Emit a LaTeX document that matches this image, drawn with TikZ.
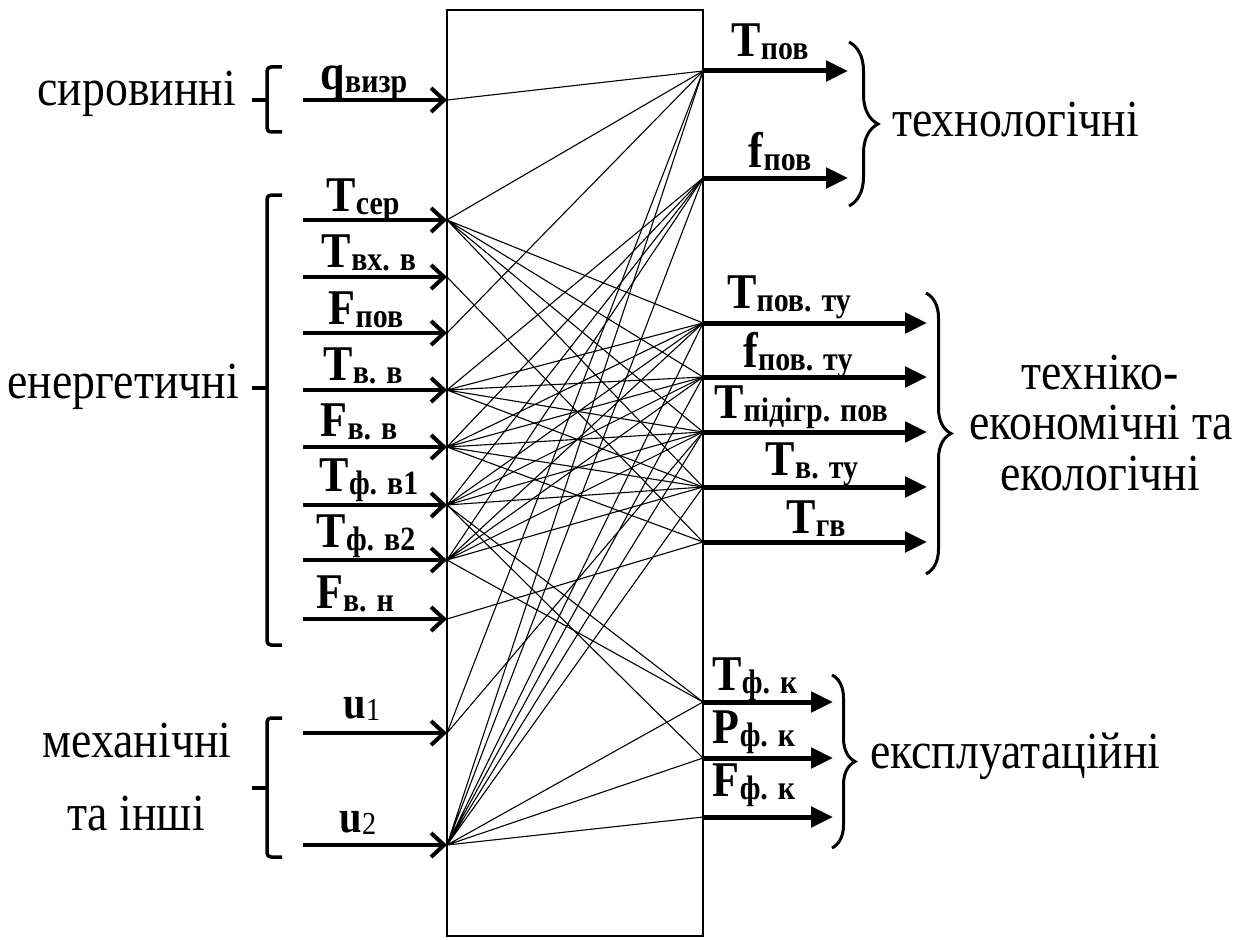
\documentclass[tikz,border=0pt]{standalone}
\usepackage{fontspec}
\setmainfont{Liberation Serif}[FakeStretch=0.88]
\usetikzlibrary{arrows.meta, decorations.pathreplacing}

\newcommand{\varlab}[2]{{\fontsize{50}{54}\selectfont\bfseries #1}\raisebox{-3pt}{\fontsize{34}{38}\selectfont\bfseries #2}}
\newcommand{\ulab}[1]{{\fontsize{46}{50}\selectfont\bfseries u}\raisebox{-2pt}{\fontsize{32}{36}\selectfont #1}}

\begin{document}
\begin{tikzpicture}[x=1pt, y=-1pt,
  inarrow/.style={line width=4pt, -{Straight Barb[length=13pt, width=24pt]}},
  outarrow/.style={line width=5pt, -{Triangle[length=22pt, width=20pt]}},
  link/.style={line width=1.1pt},
  bracket/.style={line width=3.5pt, rounded corners=4pt},
  curly/.style={line width=3pt, decorate, decoration={brace, amplitude=#1}},
  varname/.style={anchor=base, inner sep=0pt},
  group/.style={anchor=base, inner sep=0pt, font=\fontsize{52}{60}\selectfont}
]
\useasboundingbox (0,0) rectangle (1252,939);

\coordinate (q) at (447,100);    \coordinate (q0) at (303,100);
\coordinate (tser) at (447,220); \coordinate (tser0) at (303,220);
\coordinate (tvx) at (447,277);  \coordinate (tvx0) at (303,277);
\coordinate (fpv) at (447,333);  \coordinate (fpv0) at (303,333);
\coordinate (tvv) at (447,390);  \coordinate (tvv0) at (303,390);
\coordinate (fvv) at (447,447);  \coordinate (fvv0) at (303,447);
\coordinate (tf1) at (447,505);  \coordinate (tf10) at (303,505);
\coordinate (tf2) at (447,560);  \coordinate (tf20) at (303,560);
\coordinate (fvn) at (447,619);  \coordinate (fvn0) at (303,619);
\coordinate (ua) at (447,733);   \coordinate (ua0) at (303,733);
\coordinate (ub) at (447,845);   \coordinate (ub0) at (303,845);

\coordinate (tpov) at (703,71);  \coordinate (tpov1) at (848,71);
\coordinate (fpov) at (703,178); \coordinate (fpov1) at (848,178);
\coordinate (tpt) at (703,323);  \coordinate (tpt1) at (927,323);
\coordinate (fpt) at (703,377);  \coordinate (fpt1) at (927,377);
\coordinate (tpid) at (703,432); \coordinate (tpid1) at (927,432);
\coordinate (tvt) at (703,487);  \coordinate (tvt1) at (927,487);
\coordinate (tgv) at (703,542);  \coordinate (tgv1) at (927,542);
\coordinate (tfk) at (703,702);  \coordinate (tfk1) at (833,702);
\coordinate (pfk) at (703,758);  \coordinate (pfk1) at (833,758);
\coordinate (ffk) at (703,817);  \coordinate (ffk1) at (833,817);

\draw[link] (q) -- (tpov);
\draw[link] (tser) -- (tpov) (tser) -- (tpt) (tser) -- (fpt) (tser) -- (tpid) (tser) -- (tvt);
\draw[link] (tvx) -- (tgv);
\draw[link] (fpv) -- (tpov);
\draw[link] (tvv) -- (fpov) (tvv) -- (tpt) (tvv) -- (fpt) (tvv) -- (tpid) (tvv) -- (tvt);
\draw[link] (fvv) -- (fpov) (fvv) -- (tpt) (fvv) -- (fpt) (fvv) -- (tpid) (fvv) -- (tvt) (fvv) -- (tgv);
\draw[link] (tf1) -- (fpov) (tf1) -- (tpt) (tf1) -- (fpt) (tf1) -- (tpid) (tf1) -- (tvt) (tf1) -- (tfk) (tf1) -- (pfk);
\draw[link] (tf2) -- (fpov) (tf2) -- (tpt) (tf2) -- (fpt) (tf2) -- (tpid) (tf2) -- (tvt) (tf2) -- (tfk);
\draw[link] (fvn) -- (tgv);
\draw[link] (ua) -- (tpov) (ua) -- (tpid);
\draw[link] (ub) -- (tpov) (ub) -- (fpov) (ub) -- (tpt) (ub) -- (fpt) (ub) -- (tpid) (ub) -- (tvt)
  (ub) -- (tfk) (ub) -- (pfk) (ub) -- (ffk);

\draw[line width=2.5pt] (447,10) rectangle (703,936);

\draw[inarrow] (q0) -- (q);
\draw[inarrow] (tser0) -- (tser);
\draw[inarrow] (tvx0) -- (tvx);
\draw[inarrow] (fpv0) -- (fpv);
\draw[inarrow] (tvv0) -- (tvv);
\draw[inarrow] (fvv0) -- (fvv);
\draw[inarrow] (tf10) -- (tf1);
\draw[inarrow] (tf20) -- (tf2);
\draw[inarrow] (fvn0) -- (fvn);
\draw[inarrow] (ua0) -- (ua);
\draw[inarrow] (ub0) -- (ub);

\draw[outarrow] (tpov) -- (tpov1);
\draw[outarrow] (fpov) -- (fpov1);
\draw[outarrow] (tpt) -- (tpt1);
\draw[outarrow] (fpt) -- (fpt1);
\draw[outarrow] (tpid) -- (tpid1);
\draw[outarrow] (tvt) -- (tvt1);
\draw[outarrow] (tgv) -- (tgv1);
\draw[outarrow] (tfk) -- (tfk1);
\draw[outarrow] (pfk) -- (pfk1);
\draw[outarrow] (ffk) -- (ffk1);

\node[varname] (lq) at (364,90) {\varlab{q}{визр}};
\node[varname] (ltser) at (363,211) {\varlab{T}{сер}};
\node[varname] (ltvx) at (369,267) {\varlab{T}{вх. в}};
\node[varname] (lfpv) at (366,324) {\varlab{F}{пов}};
\node[varname] (ltvv) at (363,380) {\varlab{T}{в. в}};
\node[varname] (lfvv) at (359,436) {\varlab{F}{в. в}};
\node[varname] (ltf1) at (369,491) {\varlab{T}{ф. в1}};
\node[varname] (ltf2) at (366,547) {\varlab{T}{ф. в2}};
\node[varname] (lfvn) at (355,608) {\varlab{F}{в. н}};
\node[varname] (lua) at (362,718) {\ulab{1}};
\node[varname] (lub) at (358,832) {\ulab{2}};

\node[varname] (ltpov) at (770,57) {\varlab{T}{пов}};
\node[varname] (lfpov) at (780,167) {\varlab{f}{пов}};
\node[varname] (ltpt) at (789,308) {\varlab{T}{пов. ту}};
\node[varname] (lfpt) at (798,367) {\varlab{f}{пов. ту}};
\node[varname] (ltpid) at (801,418) {\varlab{T}{підігр. пов}};
\node[varname] (ltvt) at (812,475) {\varlab{T}{в. ту}};
\node[varname] (ltgv) at (816,533) {\varlab{T}{гв}};
\node[varname] (ltfk) at (755,690) {\varlab{T}{ф. к}};
\node[varname] (lpfk) at (754,743) {\varlab{P}{ф. к}};
\node[varname] (lffk) at (754,796) {\varlab{F}{ф. к}};

\draw[bracket] (282,67) -- (267,67) -- (267,132) -- (282,132);
\draw[bracket] (252,100) -- (267,100);
\draw[bracket] (282,195) -- (267,195) -- (267,645) -- (282,645);
\draw[bracket] (252,388) -- (267,388);
\draw[bracket] (282,718) -- (267,718) -- (267,857) -- (282,857);
\draw[bracket] (252,788) -- (267,788);

\draw[curly=29pt] (849,42) -- (849,206);
\draw[curly=25pt] (926,293) -- (926,574);
\draw[curly=23pt] (832,675) -- (832,848);

\node[group, anchor=base east] (graw) at (236,106) {сировинні};
\node[group, anchor=base east] (genergy) at (239,398) {енергетичні};
\node[group] (gmech) at (137,757) {механічні};
\node[group] (gother) at (136,830) {та інші};

\node[group, anchor=base west] (gtech) at (892,136) {технологічні};
\node[group] (geco1) at (1100,389) {техніко-};
\node[group] (geco2) at (1101,439) {економічні та};
\node[group] (geco3) at (1100,490) {екологічні};
\node[group, anchor=base west] (gexp) at (870,768) {експлуатаційні};

\end{tikzpicture}
\end{document}
